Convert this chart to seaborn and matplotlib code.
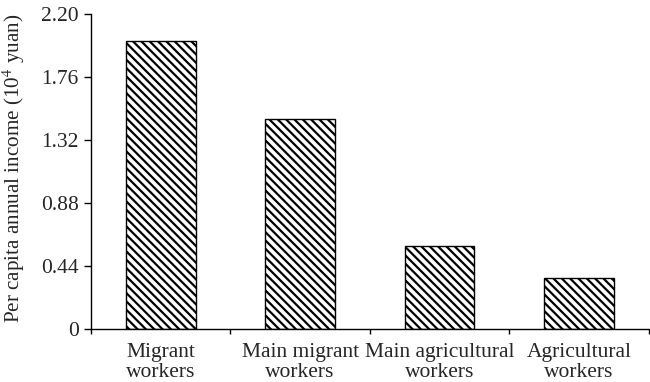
import pandas as pd
import numpy as np
import matplotlib
matplotlib.use('Agg')
import matplotlib.pyplot as plt
import seaborn as sns

# Data
categories = ['Migrant\nworkers', 'Main migrant\nworkers',
              'Main agricultural\nworkers', 'Agricultural\nworkers']
income = [2.01, 1.47, 0.58, 0.355]
yticks = [0, 0.44, 0.88, 1.32, 1.76, 2.20]
ytick_labels = ['0', '0.44', '0.88', '1.32', '1.76', '2.20']

df = pd.DataFrame({'group': categories, 'income': income})

sns.set_style('ticks')
plt.rcParams['font.family'] = ['Liberation Serif', 'DejaVu Serif']
plt.rcParams['hatch.linewidth'] = 1.6
plt.rcParams['mathtext.fontset'] = 'stix'

fig = plt.figure(figsize=(6.5, 3.82), dpi=100)
ax = fig.add_axes([0.14, 0.139, 0.858, 0.824])

sns.barplot(data=df, x='group', y='income', ax=ax, color='white',
            edgecolor='black', linewidth=1.0, hatch='\\\\\\\\', width=0.5,
            saturation=1)

ax.set_xlim(-0.5, 3.5)
ax.set_ylim(0, 2.20)
ax.set_yticks(yticks)
ax.set_yticklabels(ytick_labels)

# category labels without tick marks, tick marks between categories
ax.set_xticks(range(len(categories)))
ax.set_xticklabels(categories, fontsize=15.5, linespacing=1.08)
ax.tick_params(axis='x', which='major', length=0, pad=10)
ax.set_xticks(np.arange(-0.5, 4.0, 1.0), minor=True)
ax.tick_params(axis='x', which='minor', length=3.6, width=1, direction='out', color='black')
ax.tick_params(axis='y', length=5, width=1, direction='out', labelsize=15.5, pad=4, color='black')

ax.set_xlabel('')
ax.set_ylabel('Per capita annual income (10$^4$ yuan)', fontsize=15.2)
ax.yaxis.set_label_coords(-0.114, 0.51)

for s in ['top', 'right']:
    ax.spines[s].set_visible(False)
for s in ['left', 'bottom']:
    ax.spines[s].set_color('black')
    ax.spines[s].set_linewidth(1.0)

fig.savefig('out.png', dpi=100)
